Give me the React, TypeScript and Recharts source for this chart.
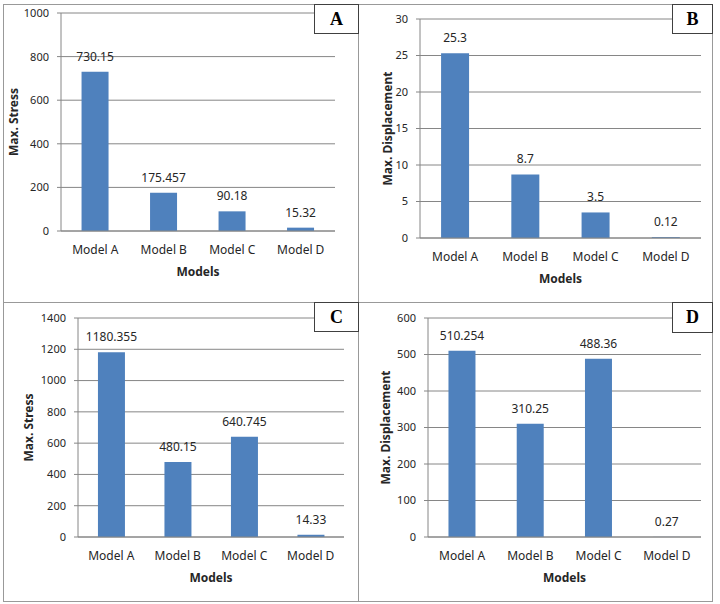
import React from 'react';
import { BarChart, Bar, XAxis, YAxis, CartesianGrid, LabelList, Label } from 'recharts';

// Data
const models = ['Model A', 'Model B', 'Model C', 'Model D'];
const stressA = [730.15, 175.457, 90.18, 15.32];
const displacementB = [25.3, 8.7, 3.5, 0.12];
const stressC = [1180.355, 480.15, 640.745, 14.33];
const displacementD = [510.254, 310.25, 488.36, 0.27];

const ticksA = [0, 200, 400, 600, 800, 1000];
const ticksB = [0, 5, 10, 15, 20, 25, 30];
const ticksC = [0, 200, 400, 600, 800, 1000, 1200, 1400];
const ticksD = [0, 100, 200, 300, 400, 500, 600];
const edgeTicks = [0, 1, 2, 3, 4];

const FONT = '"Noto Sans", sans-serif';
const BAR = '#4f81bd';
const LINE = '#868686';
const TEXT = '#262626';

interface PanelProps {
  values: number[];
  ticks: number[];
  yTitle: string;
  letter: string;
  left: number;
  top: number;
  width: number;
  height: number;
  yWidth: number;
  margin: { top: number; right: number; bottom: number; left: number };
  titleDx: number;
  box: { left: number; width: number; height: number };
}

const Panel: React.FC<PanelProps> = ({
  values, ticks, yTitle, letter, left, top, width, height, yWidth, margin, titleDx, box,
}) => {
  const data = models.map((model, i) => ({ model, value: values[i] }));

  const yTitleContent = (props: any) => {
    const { x, y, height: h } = props.viewBox;
    const cx = x + titleDx;
    const cy = y + h / 2;
    return (
      <text x={cx} y={cy} transform={`rotate(-90 ${cx} ${cy})`} textAnchor="middle"
        dominantBaseline="central" fontFamily={FONT} fontSize={12} fontWeight="bold" fill={TEXT}>
        {yTitle}
      </text>
    );
  };

  const xTitleContent = (props: any) => {
    const { x, y, width: w } = props.viewBox;
    return (
      <text x={x + w / 2} y={y + 39} textAnchor="middle" dominantBaseline="central"
        fontFamily={FONT} fontSize={12} fontWeight="bold" fill={TEXT}>
        Models
      </text>
    );
  };

  // "base" carries the axis line and the tick marks between categories,
  // "cat" carries the category names just below it
  return (
    <div style={{ position: 'absolute', left, top, width, height }}>
      <BarChart width={width} height={height} data={data} margin={margin} barCategoryGap="30%">
        <CartesianGrid xAxisId="cat" vertical={false} stroke={LINE} />
        <XAxis xAxisId="base" type="number" domain={[0, 4]} ticks={edgeTicks} height={1}
          tick={false} tickSize={5} stroke={LINE} allowDataOverflow />
        <XAxis xAxisId="cat" dataKey="model" height={30} axisLine={false} tickLine={false}
          tickSize={0} tickMargin={13} interval={0}
          tick={{ fill: TEXT, fontSize: 12, fontFamily: FONT }}>
          <Label content={xTitleContent} />
        </XAxis>
        <YAxis domain={[0, ticks[ticks.length - 1]]} ticks={ticks} width={yWidth} interval={0}
          tickSize={4} tickMargin={8} stroke={LINE}
          tick={{ fill: TEXT, fontSize: 11, fontFamily: FONT }}>
          <Label content={yTitleContent} />
        </YAxis>
        <Bar xAxisId="cat" dataKey="value" fill={BAR} isAnimationActive={false}>
          <LabelList dataKey="value" position="top" offset={11} fill={TEXT} fontSize={12} fontFamily={FONT} />
        </Bar>
      </BarChart>
      <div style={{
        position: 'absolute', left: box.left, top: 0, width: box.width, height: box.height,
        boxSizing: 'border-box', border: '1px solid #404040', background: '#fff',
        display: 'flex', alignItems: 'center', justifyContent: 'center',
        fontFamily: '"Liberation Serif", serif', fontWeight: 'bold', fontSize: 18, color: '#000',
      }}>
        {letter}
      </div>
    </div>
  );
};

export default function App() {
  return (
    <div style={{ position: 'absolute', left: 0, top: 0, width: 720, height: 604, background: '#fff', overflow: 'hidden' }}>
      <div style={{ position: 'absolute', left: 3, top: 4, width: 710, height: 598, boxSizing: 'border-box', border: '1px solid #999' }} />
      <div style={{ position: 'absolute', left: 358, top: 4, width: 1, height: 598, background: '#999' }} />
      <div style={{ position: 'absolute', left: 3, top: 302, width: 710, height: 1, background: '#999' }} />

      <Panel values={stressA} ticks={ticksA} yTitle="Max. Stress" letter="A"
        left={3} top={4} width={355} height={298} yWidth={58}
        margin={{ top: 9, right: 23, bottom: 40, left: 0 }} titleDx={10}
        box={{ left: 311, width: 45, height: 30 }} />
      <Panel values={displacementB} ticks={ticksB} yTitle="Max. Displacement" letter="B"
        left={358} top={4} width={355} height={298} yWidth={62}
        margin={{ top: 15, right: 12, bottom: 33, left: 0 }} titleDx={29}
        box={{ left: 314, width: 41, height: 30 }} />
      <Panel values={stressC} ticks={ticksC} yTitle="Max. Stress" letter="C"
        left={3} top={302} width={355} height={300} yWidth={75}
        margin={{ top: 16, right: 14, bottom: 34, left: 0 }} titleDx={25}
        box={{ left: 311, width: 45, height: 30 }} />
      <Panel values={displacementD} ticks={ticksD} yTitle="Max. Displacement" letter="D"
        left={358} top={302} width={355} height={300} yWidth={70}
        margin={{ top: 16, right: 12, bottom: 34, left: 0 }} titleDx={27}
        box={{ left: 314, width: 41, height: 31 }} />
    </div>
  );
}
